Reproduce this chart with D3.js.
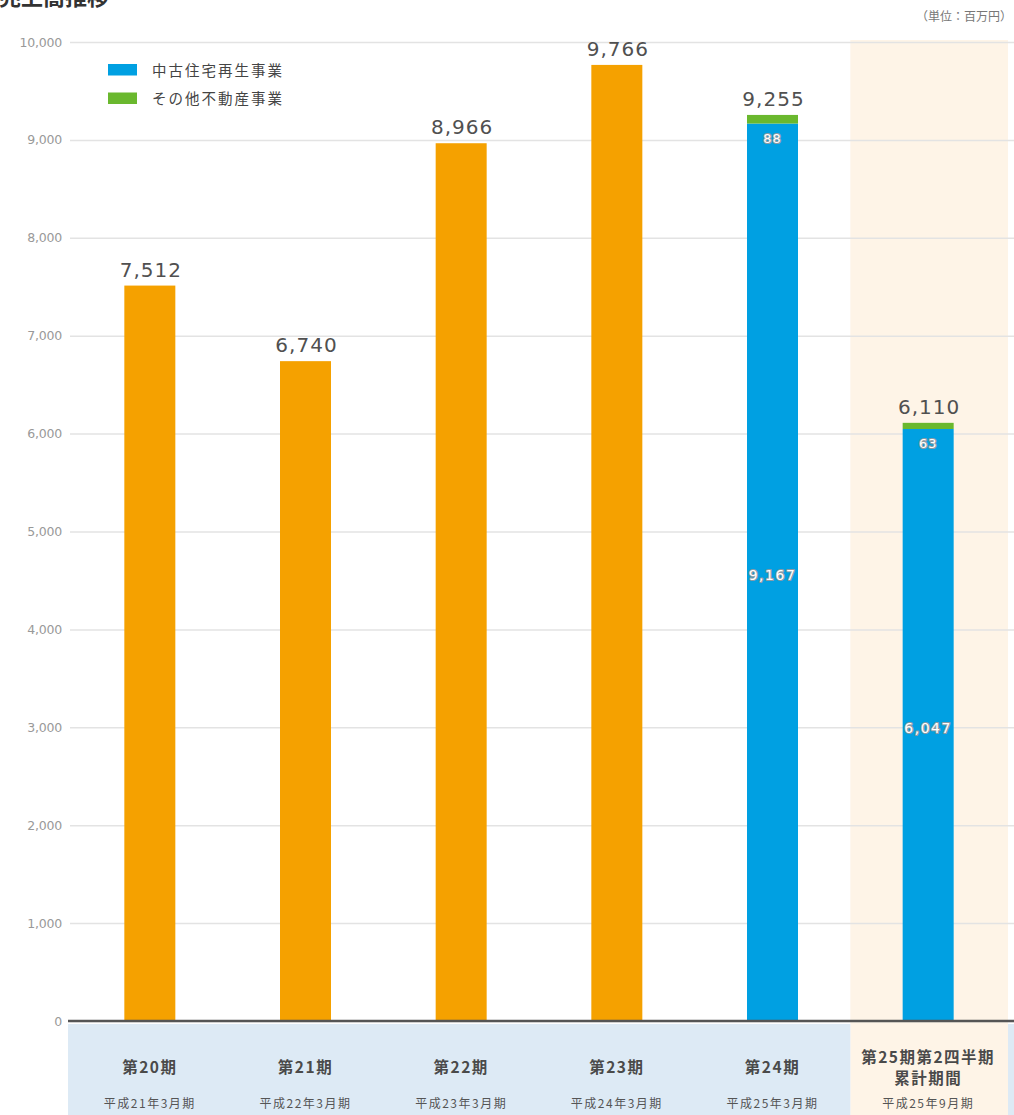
<!DOCTYPE html>
<html>
<head>
<meta charset="utf-8">
<script src="https://cdn.jsdelivr.net/npm/d3@7"></script>
<style>
  html, body { margin: 0; padding: 0; background: #fff; }
  svg { display: block; }
</style>
</head>
<body>
<svg id="chart" width="1014" height="1115"></svg>
<script>
// Sales by fiscal period (millions of yen)
const periodLines = [
  ["第20期"], ["第21期"], ["第22期"], ["第23期"], ["第24期"], ["第25期第2四半期", "累計期間"]
];
const fiscalLabels = ["平成21年3月期", "平成22年3月期", "平成23年3月期", "平成24年3月期", "平成25年3月期", "平成25年9月期"];
const totals = [7512, 6740, 8966, 9766, 9255, 6110];
// Segment breakdown, available from the 24th period on
const usedHomeValues = [null, null, null, null, 9167, 6047];
const otherValues = [null, null, null, null, 88, 63];
const seriesNames = ["中古住宅再生事業", "その他不動産事業"];
const yTicks = [0, 1000, 2000, 3000, 4000, 5000, 6000, 7000, 8000, 9000, 10000];

const colors = {
  total: "#F5A100",
  usedHome: "#00A0E2",
  other: "#6AB82E",
  grid: "#e3e3e3",
  axis: "#555",
  peach: "#FEF4E7",
  band: "#DDEAF5"
};

const svg = d3.select("#chart");
const W = 1014, H = 1115;
const idx = d3.range(totals.length);

const x = d3.scaleBand().domain(idx).range([72, 1006]).paddingInner(0).paddingOuter(0);
const y = d3.scaleLinear().domain([0, 10000]).range([1021, 42]);
const barW = 51;
const cx = i => x(i) + x.bandwidth() / 2;

// Highlighted cumulative period column
const last = totals.length - 1;
svg.append("rect")
  .attr("x", x(last)).attr("y", y(10000) - 2)
  .attr("width", x.bandwidth() + 2).attr("height", H - y(10000) + 2)
  .attr("fill", colors.peach);

// Category label strip
svg.append("rect")
  .attr("x", 68).attr("y", y(0) + 3)
  .attr("width", x(last) - 68).attr("height", H - y(0))
  .attr("fill", colors.band);
svg.append("rect")
  .attr("x", x(last) + x.bandwidth() + 2).attr("y", y(0) + 3)
  .attr("width", W).attr("height", H - y(0))
  .attr("fill", colors.band);

// Gridlines and tick labels
const yAxis = d3.axisLeft(y)
  .tickValues(yTicks)
  .tickFormat(d3.format(","))
  .tickSize(-(W - 70))
  .tickPadding(8);
const gy = svg.append("g").attr("transform", "translate(70,0)").call(yAxis);
gy.select(".domain").remove();
gy.selectAll(".tick line").attr("stroke", colors.grid).attr("stroke-width", 1.5);
gy.selectAll(".tick text")
  .attr("fill", "#999")
  .attr("font-family", "'DejaVu Sans', sans-serif")
  .attr("font-size", 12.5)
  .attr("letter-spacing", -0.2);

// Title (running off the top edge) and unit note
svg.append("text")
  .attr("x", -1).attr("y", 5)
  .attr("font-family", "'Noto Sans CJK JP', sans-serif")
  .attr("font-weight", "bold")
  .attr("font-size", 22)
  .attr("fill", "#333")
  .text("売上高推移");
svg.append("text")
  .attr("x", 1012).attr("y", 21)
  .attr("text-anchor", "end")
  .attr("font-family", "'Noto Sans CJK JP', sans-serif")
  .attr("font-size", 12)
  .attr("fill", "#777")
  .text("（単位：百万円）");

// Bars: single total for earlier periods, stacked segments afterwards
const bars = svg.append("g");
idx.forEach(i => {
  if (usedHomeValues[i] == null) {
    bars.append("rect")
      .attr("x", cx(i) - barW / 2).attr("y", y(totals[i]))
      .attr("width", barW).attr("height", y(0) - y(totals[i]))
      .attr("fill", colors.total);
  } else {
    const u = usedHomeValues[i], o = otherValues[i];
    bars.append("rect")
      .attr("x", cx(i) - barW / 2).attr("y", y(u))
      .attr("width", barW).attr("height", y(0) - y(u))
      .attr("fill", colors.usedHome);
    bars.append("rect")
      .attr("x", cx(i) - barW / 2).attr("y", y(u + o))
      .attr("width", barW).attr("height", y(u) - y(u + o))
      .attr("fill", colors.other);
  }
});

// Baseline
svg.append("line")
  .attr("x1", 68).attr("x2", W)
  .attr("y1", y(0)).attr("y2", y(0))
  .attr("stroke", colors.axis).attr("stroke-width", 2.5);

// Total labels above bars
svg.append("g").selectAll("text")
  .data(idx).join("text")
  .attr("x", i => cx(i) + 1)
  .attr("y", i => y(totals[i]) - 9)
  .attr("text-anchor", "middle")
  .attr("font-family", "'DejaVu Sans', sans-serif")
  .attr("font-size", 20)
  .attr("letter-spacing", 1)
  .attr("fill", "#505050")
  .text(i => d3.format(",")(totals[i]));

// Segment labels inside stacked bars
const inner = svg.append("g")
  .attr("font-family", "'DejaVu Sans', sans-serif")
  .attr("text-anchor", "middle")
  .attr("fill", "#fff")
  .attr("stroke", "#8a9aa4")
  .attr("stroke-width", 2.2)
  .attr("paint-order", "stroke")
  .attr("stroke-linejoin", "round");
idx.filter(i => usedHomeValues[i] != null).forEach(i => {
  inner.append("text")
    .attr("x", cx(i)).attr("y", y(usedHomeValues[i]) + 19)
    .attr("font-size", 13)
    .attr("letter-spacing", 1)
    .text(d3.format(",")(otherValues[i]));
  inner.append("text")
    .attr("x", cx(i)).attr("y", y(usedHomeValues[i] / 2) + 8)
    .attr("font-size", 14)
    .attr("letter-spacing", 1.5)
    .text(d3.format(",")(usedHomeValues[i]));
});

// Legend
const legend = svg.append("g");
[colors.usedHome, colors.other].forEach((c, k) => {
  legend.append("rect")
    .attr("x", 108).attr("y", 64 + k * 28.5)
    .attr("width", 29).attr("height", 11.5)
    .attr("fill", c);
  legend.append("text")
    .attr("x", 152).attr("y", 75.5 + k * 28.5)
    .attr("font-family", "'Noto Sans CJK JP', sans-serif")
    .attr("font-size", 14.5)
    .attr("letter-spacing", 2)
    .attr("fill", "#444")
    .text(seriesNames[k]);
});

// Category labels
const cat = svg.append("g")
  .attr("font-family", "'Noto Sans CJK JP', sans-serif")
  .attr("text-anchor", "middle");
idx.forEach(i => {
  const lines = periodLines[i];
  const startY = lines.length === 1 ? 1073 : 1063;
  lines.forEach((t, k) => {
    cat.append("text")
      .attr("x", cx(i)).attr("y", startY + k * 21)
      .attr("font-size", 15.5)
      .attr("font-weight", "bold")
      .attr("letter-spacing", 1.5)
      .attr("fill", "#4a4a4a")
      .text(t);
  });
  cat.append("text")
    .attr("x", cx(i)).attr("y", 1108)
    .attr("font-size", 12)
    .attr("letter-spacing", 1.5)
    .attr("fill", "#555")
    .text(fiscalLabels[i]);
});
</script>
</body>
</html>
